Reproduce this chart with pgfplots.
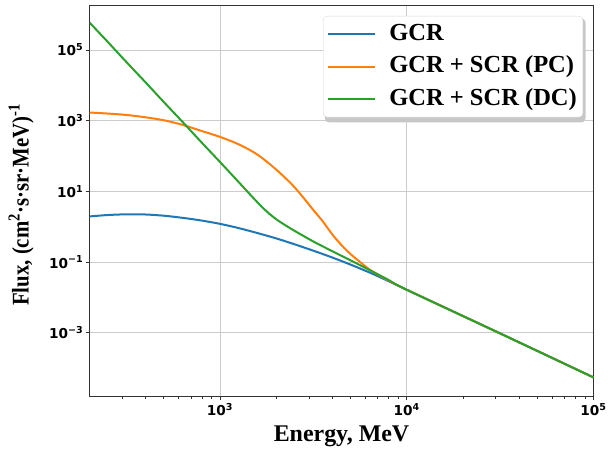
\documentclass[border=0pt]{standalone}
\usepackage{fontspec}
\setmainfont{Liberation Serif}
\newfontfamily\tickfont{DejaVu Sans}
\usepackage{graphicx}
\usepackage{pgfplots}
\pgfplotsset{compat=1.18}

\definecolor{cblue}{HTML}{1F77B4}
\definecolor{corange}{HTML}{FF7F0E}
\definecolor{cgreen}{HTML}{2CA02C}
\definecolor{gridc}{HTML}{CCCCCC}

\begin{document}
\begin{tikzpicture}
\begin{axis}[
  at={(0,0)}, anchor=south west,
  scale only axis, width=504bp, height=391bp,
  xmode=log, ymode=log,
  xmin=200, xmax=1e5, ymin=1.62e-5, ymax=1.87e6,
  axis line style={black!80, line width=0.8bp},
  grid=major, major grid style={gridc, line width=0.8bp},
  tick align=outside, tick style={black!80, line width=0.8bp},
  major tick length=4bp, minor tick length=2.5bp,
  xtick={1e3,1e4,1e5},
  xticklabels={10\textsuperscript{3},10\textsuperscript{4},10\textsuperscript{5}},
  minor xtick={300,400,500,600,700,800,900,2000,3000,4000,5000,6000,7000,8000,9000,20000,30000,40000,50000,60000,70000,80000,90000},
  ytick={1e-3,1e-1,1e1,1e3,1e5},
  yticklabels={10\textsuperscript{−3},10\textsuperscript{−1},10\textsuperscript{1},10\textsuperscript{3},10\textsuperscript{5}},
  yminorticks=false,
  xtick pos=bottom, ytick pos=left,
  ticklabel style={font=\tickfont\bfseries\fontsize{13.7}{16}\selectfont, inner sep=0pt},
  xticklabel style={anchor=north, yshift=-3bp},
  yticklabel style={anchor=east, xshift=-2bp},
  xlabel={\textbf{Energy, MeV}},
  ylabel={\scalebox{0.87}[1]{\textbf{Flux, (cm\textsuperscript{2}·s·sr·MeV)\textsuperscript{-1}}}},
  label style={font=\fontsize{24}{26}\selectfont},
  xlabel style={at={(axis description cs:0.5,-0.1151)}, anchor=base},
  ylabel style={at={(axis description cs:-0.1208,0.4885)}, anchor=base},
  legend style={at={(axis description cs:0.9792,0.9719)}, anchor=north east,
    draw=black!15, rounded corners=4bp, fill=white,
    font=\fontsize{24.6}{26}\selectfont\bfseries,
    inner xsep=4bp, inner ysep=5bp, row sep=6.5bp, column sep=11bp,
    nodes={inner sep=2bp, text height=17bp, text depth=5bp}},
  legend cell align=left,
  legend image code/.code={\draw[#1] (0bp,0bp) -- (47bp,0bp);},
  every axis plot/.append style={line width=2bp, smooth, no markers},
]
% soft shadow behind the legend box
\fill[black!22, rounded corners=4bp] (axis description cs:0.4672,0.6995) rectangle (axis description cs:0.9841,0.9655);

\addplot[cblue] coordinates {
(200,1.950) (251.2,2.138) (316.2,2.239) (398.1,2.213) (501.2,2.042)
(631.0,1.778) (794.3,1.496) (1000,1.202) (1258.9,0.9120) (1584.9,0.6607)
(1995.3,0.4677) (2511.9,0.3162) (3162.3,0.2089) (3981.1,0.1349)
(5011.9,0.08414) (6309.6,0.05070) (7943.3,0.02917) (10000,0.01641)
(31623,9.550e-4) (100000,5.433e-5)};
\addlegendentry{GCR}
\addplot[corange] coordinates {
(200,1698) (251.2,1585) (316.2,1445) (398.1,1245) (501.2,1023)
(631.0,758.6) (794.3,512.9) (1000,346.7) (1258.9,213.8) (1584.9,109.6)
(1995.3,41.69) (2511.9,12.88) (3162.3,2.951) (3548.1,1.413) (3981.1,0.6166)
(4466.8,0.3020) (5011.9,0.1660) (5623.4,0.1) (6309.6,0.06166)
(7079.5,0.04266) (7943.3,0.03055) (10000,0.01641)
(31623,9.550e-4) (100000,5.433e-5)};
\addlegendentry{GCR + SCR (PC)}
\addplot[cgreen] coordinates {
(200,5.970e5) (251.2,1.660e5) (316.2,4.467e4) (398.1,1.230e4) (501.2,3311)
(631.0,912.0) (794.3,245.5) (1000,67.61) (1258.9,18.20) (1584.9,4.90)
(1778.3,2.69) (1995.3,1.640) (2238.7,1.096) (2511.9,0.7586) (3162.3,0.3802)
(3981.1,0.2042) (5011.9,0.1109) (6309.6,0.05957) (7943.3,0.03162)
(10000,0.01641) (31623,9.550e-4) (100000,5.433e-5)};
\addlegendentry{GCR + SCR (DC)}
\end{axis}
\pgfresetboundingbox
\path (-89.5bp,-54bp) rectangle (520.5bp,396bp);
\end{tikzpicture}
\end{document}
